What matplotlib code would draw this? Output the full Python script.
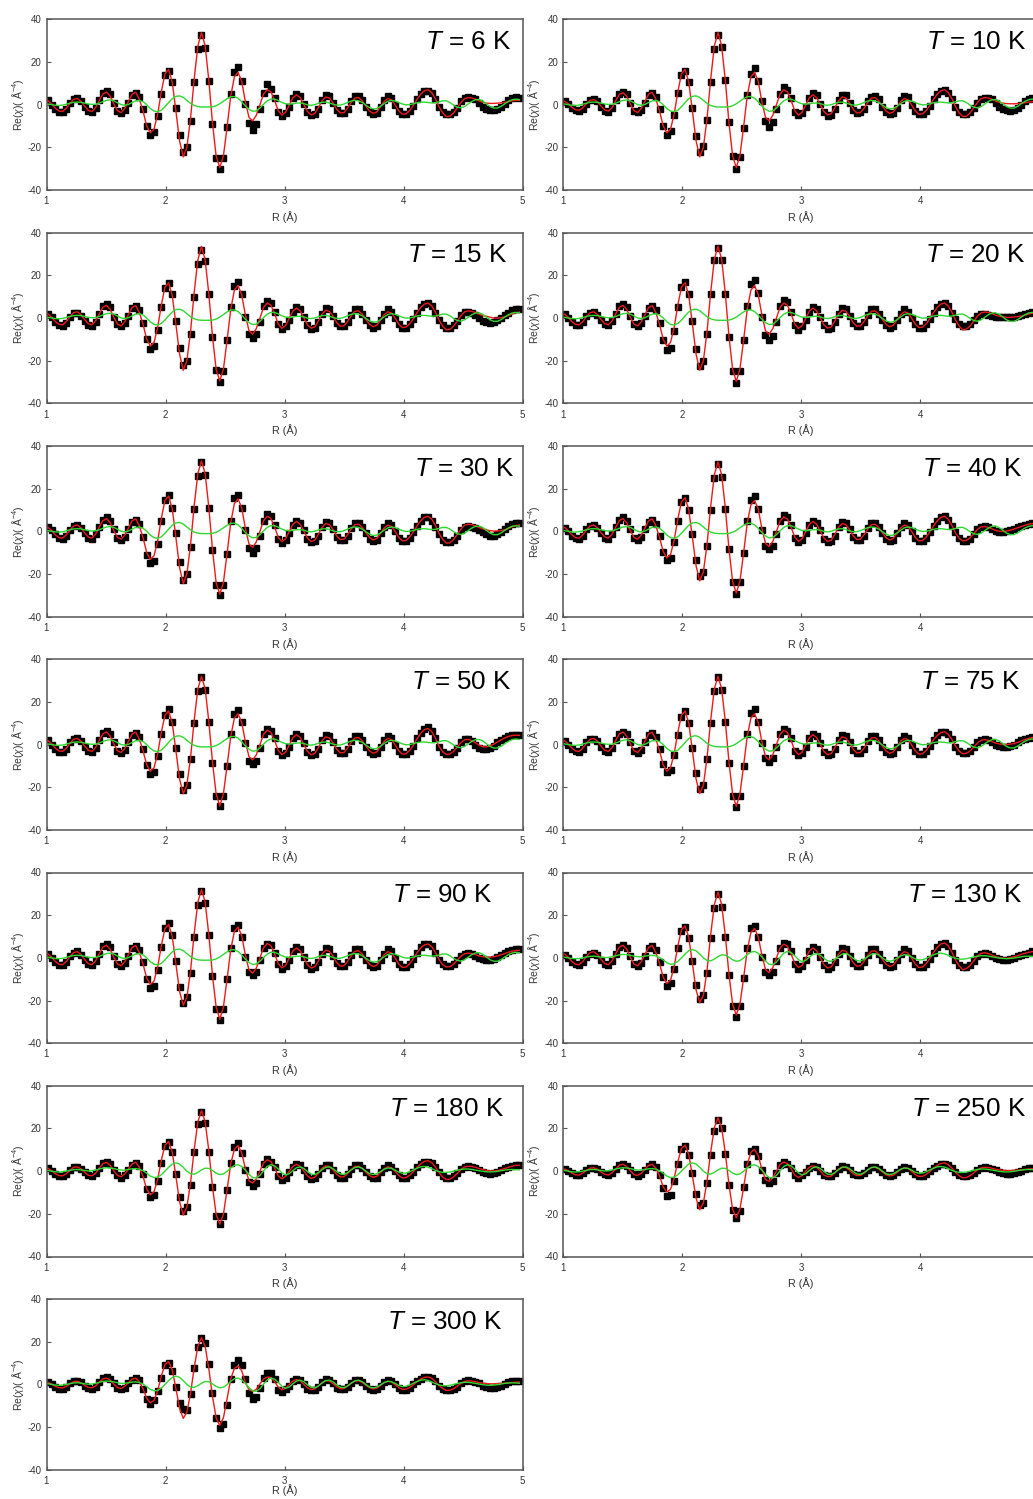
import numpy as np
import matplotlib.pyplot as plt

plt.rcParams['font.family'] = ['Liberation Sans', 'DejaVu Sans']
plt.rcParams['mathtext.fontset'] = 'custom'
plt.rcParams['mathtext.rm'] = 'Liberation Sans'
plt.rcParams['mathtext.it'] = 'Liberation Sans:italic'
plt.rcParams['axes.unicode_minus'] = False

# R grid of the transform (dR = 0.0307 A)
r = np.arange(33, 163) * 0.0307

temps = [6, 10, 15, 20, 30, 40, 50, 75, 90, 130, 180, 250, 300]

fit_6K = [
    1.8, 0.3, -1.7, -3.0, -3.2, -1.7, 0.6, 2.5, 2.9, 1.6,
    -0.7, -2.7, -3.2, -1.4, 1.9, 5.0, 5.9, 4.0, 0.3, -2.9,
    -3.7, -1.8, 1.6, 4.9, 5.8, 2.5, -3.0, -10.0, -13.2, -11.5,
    -4.5, 6.0, 14.5, 16.5, 10.5, -3.0, -17.0, -24.5, -20.0, -6.5,
    12.0, 27.5, 33.8, 27.5, 11.5, -8.5, -24.0, -29.5, -24.0, -10.5,
    4.0, 13.0, 15.2, 11.0, 1.5, -6.0, -7.6, -5.0, 0.0, 5.0,
    7.0, 6.0, 2.0, -2.8, -4.9, -3.6, -0.2, 3.2, 4.6, 3.3,
    0.1, -3.2, -4.8, -4.2, -1.4, 1.8, 3.6, 3.1, 0.8, -2.2,
    -3.9, -3.7, -1.6, 1.1, 3.1, 3.3, 1.8, -0.7, -3.0, -4.1,
    -3.4, -1.0, 1.5, 2.9, 2.3, -0.1, -2.9, -4.5, -4.3, -2.7,
    -0.3, 2.5, 4.9, 6.5, 7.0, 5.7, 2.8, -0.9, -3.8, -5.6,
    -5.4, -3.9, -1.5, 1.0, 2.8, 3.3, 3.1, 2.5, 1.7, 1.1,
    0.7, 0.6, 0.6, 0.7, 0.9, 1.1, 1.4, 1.8, 2.0, 2.1]
data_6K = [
    2, 0, -2, -3.5, -3.5, -2, 1, 2.5, 3, 1.5,
    -1, -3, -3.5, -1.5, 2, 5.5, 6.5, 5, 1, -3,
    -4, -2.5, 1, 4.5, 5.5, 3.5, -2, -10, -14, -13,
    -5.5, 5, 14, 16, 10.5, -1.5, -14, -22, -20, -7.5,
    10.5, 26, 32.5, 26.5, 11, -9, -25, -30, -25, -10.5,
    5, 15.5, 17.5, 11, 0.5, -8.5, -12, -9, -2, 5.5,
    9.5, 7.5, 3, -3.5, -5.5, -4, -1, 3, 5, 4,
    0.5, -3.5, -5, -4.5, -2, 2, 4.5, 4, 1, -2.5,
    -4, -4, -2, 1.5, 4, 4, 2, -1, -3.5, -4.5,
    -4, -1, 2, 4, 3, 0, -3, -4.5, -4.5, -3,
    -0.5, 2.5, 5, 6.5, 6.5, 5.5, 2.5, -1, -3.5, -4.5,
    -4.5, -3.5, -1.5, 1.5, 3, 3.5, 3, 2.5, 1, -1,
    -2, -2.5, -2.5, -2, -1, 0.5, 2, 3, 3.5, 3]

fit_10K = [
    1.5, 0.5, -1.2, -2.4, -2.6, -1.5, 0.5, 2.0, 2.3, 1.3,
    -0.7, -2.5, -3.0, -1.4, 1.8, 4.8, 5.6, 4.0, 0.3, -2.8,
    -3.7, -1.8, 1.6, 4.9, 5.8, 2.5, -3.0, -10.0, -13.2, -11.5,
    -4.5, 6.0, 14.5, 16.5, 10.5, -3.0, -17.0, -24.5, -20.0, -6.5,
    12.0, 27.5, 33.8, 27.5, 11.5, -8.5, -24.0, -29.5, -24.0, -10.5,
    4.0, 13.0, 15.2, 11.0, 1.5, -6.0, -7.6, -5.0, 0.0, 5.0,
    7.0, 6.0, 2.0, -2.8, -4.9, -3.6, -0.2, 3.2, 4.6, 3.3,
    0.1, -3.2, -4.8, -4.2, -1.4, 1.8, 3.6, 3.1, 0.8, -2.2,
    -3.9, -3.7, -1.6, 1.1, 3.1, 3.3, 1.8, -0.7, -3.0, -4.1,
    -3.4, -1.0, 1.5, 2.9, 2.3, -0.1, -2.9, -4.5, -4.3, -2.7,
    -0.3, 2.5, 4.9, 6.5, 7.0, 5.7, 2.8, -0.9, -3.8, -5.6,
    -5.4, -3.9, -1.5, 1.0, 2.8, 3.3, 3.1, 2.5, 1.7, 1.1,
    0.7, 0.5, 0.4, 0.4, 0.5, 0.7, 0.9, 1.2, 1.4, 1.5]
data_10K = [
    1.5, 0.5, -1.5, -2.5, -3, -2, 0.5, 2, 2.5, 1.5,
    -1, -3, -3.5, -1.5, 2, 5, 6, 5, 1, -3,
    -3.5, -2.5, 1, 4.5, 5.5, 3.5, -2, -10, -14, -12.5,
    -5, 5.5, 14, 16, 10.5, -1.5, -14.5, -22, -19.5, -7,
    10.5, 26, 32.5, 27, 11.5, -8, -24, -30, -24.5, -11,
    4.5, 14.5, 17, 11, 1.5, -7.5, -10.5, -8, -2, 5,
    8.5, 7, 3, -3.5, -5, -4, -1, 3, 5.5, 4.5,
    0.5, -3.5, -5.5, -5, -2, 2, 4.5, 4.5, 1, -2.5,
    -4, -3.5, -2, 1.5, 3.5, 4, 2.5, -1, -3.5, -4.5,
    -4, -1.5, 2, 4, 3.5, 0, -3, -4.5, -4.5, -3,
    -0.5, 2.5, 5, 6.5, 7, 5.5, 2.5, -1, -3.5, -4.5,
    -4.5, -3.5, -1.5, 1, 2.5, 3, 3, 2.5, 1, -1,
    -2, -2.5, -3, -2.5, -1.5, 0, 1.5, 2.5, 3, 3]

fit_15K = [
    1.8, 0.3, -1.7, -3.0, -3.2, -1.7, 0.6, 2.5, 2.9, 1.6,
    -0.7, -2.7, -3.2, -1.4, 1.9, 5.0, 5.9, 4.0, 0.3, -2.9,
    -3.7, -1.8, 1.6, 4.9, 5.8, 2.5, -3.0, -10.0, -13.2, -11.5,
    -4.5, 6.0, 14.5, 16.5, 10.5, -3.0, -17.0, -24.5, -20.0, -6.5,
    12.0, 27.2, 33.5, 27.2, 11.4, -8.5, -24.0, -29.5, -24.0, -10.5,
    4.0, 13.0, 15.2, 11.0, 1.5, -6.0, -7.6, -5.0, 0.0, 5.0,
    7.0, 6.0, 2.0, -2.8, -4.9, -3.6, -0.2, 3.2, 4.6, 3.3,
    0.1, -3.2, -4.8, -4.2, -1.4, 1.8, 3.6, 3.1, 0.8, -2.2,
    -3.9, -3.7, -1.6, 1.1, 3.1, 3.3, 1.8, -0.7, -3.0, -4.1,
    -3.4, -1.0, 1.5, 2.9, 2.3, -0.1, -2.9, -4.5, -4.3, -2.7,
    -0.3, 2.5, 4.9, 6.5, 7.0, 5.7, 2.8, -0.9, -3.8, -5.6,
    -5.4, -3.9, -1.5, 1.0, 2.8, 3.3, 3.1, 2.5, 1.7, 1.1,
    0.8, 0.3, 0.0, -0.1, 0.1, 0.5, 1.1, 1.8, 2.4, 2.8]
data_15K = [
    2, 0.5, -2, -3.5, -4, -2.5, 0.5, 2.5, 2.5, 1,
    -1.5, -3.5, -4, -2, 2, 5.5, 6.5, 5, 0.5, -3,
    -4, -2.5, 1, 4.5, 5.5, 3.5, -2.5, -10, -14.5, -13,
    -5.5, 5, 14, 16.5, 11, -1.5, -14, -22, -20, -7.5,
    10, 25.5, 32, 26.5, 11, -9, -24.5, -30, -25, -10.5,
    5, 15, 17, 11, 0.5, -7.5, -9.5, -7.5, -2, 5.5,
    8, 7, 3, -3, -5, -4, -1, 3, 5, 4,
    0.5, -3.5, -5, -4.5, -2, 2, 4.5, 4, 1, -2.5,
    -4, -4, -2, 1.5, 4, 4, 2, -1, -3.5, -4.5,
    -4, -1, 2, 4, 3, 0, -3, -4.5, -4.5, -3,
    -0.5, 2.5, 5, 6.5, 7, 5.5, 2.5, -1, -3.5, -4.5,
    -4.5, -3.5, -1.5, 1.5, 3, 3, 2.5, 1.5, 0, -1.5,
    -2, -2.5, -2, -1, 0, 1.5, 2.5, 3.5, 4, 4]

fit_20K = [
    1.8, 0.3, -1.7, -3.0, -3.2, -1.7, 0.6, 2.5, 2.9, 1.6,
    -0.7, -2.7, -3.2, -1.4, 1.9, 5.0, 5.9, 4.0, 0.3, -2.9,
    -3.7, -1.8, 1.6, 4.9, 5.8, 2.5, -3.0, -10.0, -13.2, -11.5,
    -4.5, 6.0, 14.5, 16.5, 10.5, -3.0, -17.0, -24.5, -20.0, -6.5,
    12.0, 27.5, 33.6, 27.5, 11.5, -8.5, -24.0, -29.8, -24.0, -10.5,
    4.0, 13.0, 15.2, 11.0, 1.5, -6.0, -7.6, -5.0, 0.0, 5.0,
    7.0, 6.0, 2.0, -2.8, -4.9, -3.6, -0.2, 3.2, 4.6, 3.3,
    0.1, -3.2, -4.8, -4.2, -1.4, 1.8, 3.6, 3.1, 0.8, -2.2,
    -3.9, -3.7, -1.6, 1.1, 3.1, 3.3, 1.8, -0.7, -3.0, -4.1,
    -3.4, -1.0, 1.5, 2.9, 2.3, -0.1, -2.9, -4.5, -4.3, -2.7,
    -0.3, 2.5, 4.9, 6.5, 7.0, 5.7, 2.8, -0.9, -3.8, -5.6,
    -5.2, -3.8, -1.5, 0.8, 2.3, 2.8, 2.6, 2.0, 1.3, 0.8,
    0.5, 0.3, 0.3, 0.4, 0.6, 0.9, 1.3, 1.8, 2.2, 2.4]
data_20K = [
    2, 0, -2, -3.5, -3.5, -2, 1, 2.5, 3, 1.5,
    -1, -3, -3.5, -1.5, 2, 5.5, 6.5, 5, 1, -3,
    -4, -2.5, 1, 4.5, 5.5, 3.5, -2.5, -10.5, -15, -14,
    -6, 5, 14.5, 17, 11, -1.5, -14.5, -22.5, -20, -7.5,
    11, 27, 33, 27, 11, -9, -25, -30.5, -25, -10.5,
    5.5, 16, 18, 11.5, 0.5, -8, -10.5, -8.5, -2, 5.5,
    8.5, 7.5, 3, -3.5, -5.5, -4, -1, 3, 5, 4,
    0.5, -3.5, -5, -4.5, -2, 2, 4.5, 4, 1, -2.5,
    -4, -4, -2, 1.5, 4, 4, 2, -1, -3.5, -4.5,
    -4, -1, 2, 4, 3, 0, -3, -4.5, -4.5, -3,
    -0.5, 2.5, 5, 6.5, 7, 5.5, 2.5, -0.5, -3, -4,
    -4, -3, -1, 1, 2, 2, 1.5, 1, 0.5, 0.5,
    0.5, 0.5, 0.5, 0.5, 1, 1.5, 2, 2.5, 3, 3]

fit_30K = [
    1.8, 0.3, -1.7, -3.0, -3.2, -1.7, 0.6, 2.5, 2.9, 1.6,
    -0.7, -2.7, -3.2, -1.4, 1.9, 5.0, 5.9, 4.0, 0.3, -2.9,
    -3.7, -1.8, 1.6, 4.9, 5.8, 2.5, -3.0, -10.0, -13.2, -11.5,
    -4.5, 6.0, 14.5, 16.5, 10.5, -3.0, -17.0, -24.5, -20.0, -6.5,
    12.0, 27.0, 33.0, 27.0, 11.3, -8.5, -24.0, -29.5, -24.0, -10.5,
    4.0, 13.0, 15.2, 11.0, 1.5, -6.0, -7.6, -5.0, 0.0, 5.0,
    7.0, 6.0, 2.0, -2.8, -4.9, -3.6, -0.2, 3.2, 4.6, 3.3,
    0.1, -3.2, -4.8, -4.2, -1.4, 1.8, 3.6, 3.1, 0.8, -2.2,
    -3.9, -3.7, -1.6, 1.1, 3.1, 3.3, 1.8, -0.7, -3.0, -4.1,
    -3.4, -1.0, 1.5, 2.9, 2.3, -0.1, -2.9, -4.5, -4.3, -2.7,
    -0.3, 2.5, 4.9, 6.5, 7.0, 5.7, 2.8, -0.9, -3.8, -5.6,
    -5.4, -3.9, -1.5, 1.0, 2.8, 3.3, 3.1, 2.5, 1.7, 1.1,
    0.6, 0.3, 0.1, 0.1, 0.3, 0.7, 1.3, 2.0, 2.6, 3.0]
data_30K = [
    2, 0.5, -1.5, -3, -3.5, -2, 0.5, 2.5, 3, 1.5,
    -1, -3, -3.5, -1.5, 2, 5.5, 6.5, 5, 1, -3,
    -4, -2.5, 1, 4.5, 5.5, 3.5, -2.5, -11, -15, -14,
    -6, 5, 14.5, 17, 11, -1, -14.5, -23, -20, -7.5,
    10.5, 26, 32.5, 26.5, 11, -9, -25, -30, -25, -10.5,
    5, 15.5, 17, 11, 0.5, -8, -10, -8, -2, 5,
    8, 7, 3, -3.5, -5.5, -4, -1, 3, 5, 4,
    0.5, -3.5, -5, -4.5, -2, 2, 4.5, 4, 1, -2.5,
    -4, -4, -2, 1.5, 4, 4, 2, -1, -3.5, -4.5,
    -4, -1, 2, 4, 3, 0, -3, -4.5, -4.5, -3,
    -0.5, 2.5, 5, 6.5, 6.5, 5, 2, -1.5, -4, -5,
    -5, -4, -2, 0.5, 2, 2.5, 2, 1.5, 0.5, -0.5,
    -1.5, -2, -2, -1.5, -0.5, 1, 2.5, 3.5, 4, 4]

fit_40K = [
    1.8, 0.3, -1.7, -3.0, -3.2, -1.7, 0.6, 2.5, 2.9, 1.6,
    -0.7, -2.7, -3.2, -1.4, 1.9, 5.0, 5.9, 4.0, 0.3, -2.9,
    -3.7, -1.8, 1.6, 4.9, 5.8, 2.5, -2.9, -9.5, -12.5, -10.9,
    -4.3, 5.7, 13.8, 15.7, 10.0, -2.9, -16.2, -23.3, -19.0, -6.2,
    11.6, 26.5, 32.5, 26.5, 11.0, -8.3, -23.5, -29.0, -23.5, -10.2,
    3.8, 12.4, 14.4, 10.5, 1.4, -5.7, -7.2, -4.8, 0.0, 4.8,
    6.7, 5.7, 1.9, -2.7, -4.7, -3.6, -0.2, 3.2, 4.6, 3.3,
    0.1, -3.2, -4.8, -4.2, -1.4, 1.8, 3.6, 3.1, 0.8, -2.2,
    -3.9, -3.7, -1.6, 1.1, 3.1, 3.3, 1.8, -0.7, -3.0, -4.1,
    -3.4, -1.0, 1.5, 2.9, 2.3, -0.1, -2.9, -4.5, -4.3, -2.7,
    -0.3, 2.5, 4.9, 6.5, 7.0, 5.7, 2.8, -0.7, -3.3, -4.5,
    -4.3, -3.1, -1.1, 0.9, 2.0, 2.2, 1.8, 1.1, 0.4, 0.0,
    -0.1, 0.1, 0.5, 1.0, 1.6, 2.2, 2.8, 3.3, 3.6, 3.7]
data_40K = [
    1.5, 0, -2, -3, -3.5, -2, 1, 2.5, 3, 1.5,
    -1, -3, -3.5, -1.5, 2, 5.5, 6.5, 5, 1, -3,
    -4, -2.5, 1, 4.5, 5.5, 3.5, -2, -9.5, -13.5, -12.5,
    -5, 5, 13.5, 15.5, 10, -1.5, -13.5, -21, -19, -7,
    10, 25, 31.5, 25.5, 10.5, -8.5, -24, -29.5, -24, -10,
    5, 14.5, 16.5, 10.5, 0.5, -7, -8.5, -7, -1.5, 5,
    7.5, 6.5, 3, -3, -5, -4, -1, 3, 5, 4,
    0.5, -3.5, -5, -4.5, -2, 2, 4.5, 4, 1, -2.5,
    -4, -4, -2, 1.5, 4, 4, 2, -1, -3.5, -4.5,
    -4, -1, 2, 4, 3, 0, -3, -4.5, -4.5, -3,
    -0.5, 2.5, 5, 6.5, 7, 5.5, 2.5, -0.5, -3, -4.5,
    -4.5, -3.5, -1.5, 1, 2, 2.5, 2, 1, 0, -0.5,
    -0.5, 0, 0.5, 1, 2, 2.5, 3, 3.5, 4, 4]

fit_50K = [
    1.8, 0.3, -1.7, -3.0, -3.2, -1.7, 0.6, 2.5, 2.9, 1.6,
    -0.7, -2.7, -3.2, -1.4, 1.9, 5.0, 5.9, 4.0, 0.3, -2.9,
    -3.7, -1.8, 1.6, 4.9, 5.8, 2.5, -2.9, -9.5, -12.5, -10.9,
    -4.3, 5.7, 13.8, 15.7, 10.0, -2.9, -16.2, -23.0, -19.0, -6.2,
    11.4, 26.1, 32.0, 26.1, 10.9, -8.1, -23.0, -28.8, -23.0, -10.0,
    3.8, 12.4, 14.4, 10.5, 1.4, -5.7, -7.2, -4.8, 0.0, 4.8,
    6.7, 5.7, 1.9, -2.7, -4.7, -3.6, -0.2, 3.2, 4.6, 3.3,
    0.1, -3.2, -4.8, -4.2, -1.4, 1.8, 3.6, 3.1, 0.8, -2.2,
    -3.9, -3.7, -1.6, 1.1, 3.1, 3.3, 1.8, -0.7, -3.0, -4.1,
    -3.4, -1.0, 1.5, 2.9, 2.3, -0.1, -2.9, -4.5, -4.3, -2.7,
    -0.3, 2.7, 5.3, 7.0, 7.5, 6.1, 3.0, -0.7, -3.4, -4.6,
    -4.4, -3.2, -1.2, 0.9, 2.2, 2.4, 1.8, 0.8, -0.3, -1.0,
    -1.1, -0.6, 0.2, 1.2, 2.2, 3.1, 3.8, 4.2, 4.4, 4.3]
data_50K = [
    2, 0, -2, -3.5, -3.5, -2, 1, 2.5, 3, 1.5,
    -1, -3, -3.5, -1.5, 2, 5.5, 6.5, 5, 1, -3,
    -4, -2.5, 1, 4.5, 5.5, 3.5, -2, -9.5, -14, -13,
    -5.5, 5, 14, 16.5, 10.5, -1.5, -14, -21.5, -19, -7,
    10, 25, 31.5, 25.5, 10.5, -8.5, -24, -29, -24, -10,
    5, 14.5, 16, 10.5, 0.5, -7.5, -9, -7.5, -1.5, 5,
    7.5, 6.5, 3, -3, -5, -4, -1, 3, 5, 4,
    0.5, -3.5, -5, -4.5, -2, 2, 4.5, 4, 1, -2.5,
    -4, -4, -2, 1.5, 4, 4, 2, -1, -3.5, -4.5,
    -4, -1, 2, 4, 3, 0, -3, -4.5, -4.5, -3,
    -0.5, 3, 5.5, 7.5, 8, 6.5, 3, -1, -3.5, -4.5,
    -4.5, -3.5, -1.5, 1, 2.5, 2.5, 1.5, 0, -1.5, -2,
    -2, -1.5, -0.5, 1, 2, 3, 4, 4.5, 4.5, 4.5]

fit_75K = [
    1.8, 0.3, -1.7, -3.0, -3.2, -1.7, 0.6, 2.5, 2.9, 1.6,
    -0.7, -2.7, -3.2, -1.4, 1.9, 5.0, 5.9, 4.0, 0.3, -2.9,
    -3.7, -1.8, 1.6, 4.9, 5.8, 2.5, -2.9, -9.5, -12.5, -10.9,
    -4.3, 5.7, 13.8, 15.7, 10.0, -2.9, -16.2, -23.0, -19.0, -6.2,
    11.4, 26.1, 32.0, 26.1, 10.9, -8.1, -23.3, -29.0, -23.3, -10.0,
    3.8, 12.4, 14.4, 10.5, 1.4, -5.7, -7.2, -4.8, 0.0, 4.8,
    6.7, 5.7, 1.9, -2.7, -4.7, -3.6, -0.2, 3.2, 4.6, 3.3,
    0.1, -3.2, -4.8, -4.2, -1.4, 1.8, 3.6, 3.1, 0.8, -2.2,
    -3.9, -3.7, -1.6, 1.1, 3.1, 3.3, 1.8, -0.7, -3.0, -4.1,
    -3.4, -1.0, 1.5, 2.9, 2.3, -0.1, -2.9, -4.5, -4.3, -2.7,
    -0.3, 2.2, 4.2, 5.6, 6.0, 4.9, 2.4, -0.7, -3.1, -4.3,
    -4.1, -3.0, -1.2, 0.7, 2.0, 2.3, 2.0, 1.4, 0.7, 0.3,
    0.0, 0.0, 0.2, 0.5, 1.0, 1.6, 2.3, 2.9, 3.3, 3.4]
data_75K = [
    1.5, 0, -2, -3, -3.5, -2, 1, 2.5, 2.5, 1.5,
    -1, -3, -3.5, -1.5, 2, 5, 6, 5, 1, -3,
    -4, -2.5, 1, 4.5, 5.5, 3.5, -2, -9, -13, -12,
    -5, 4.5, 13, 15.5, 10, -1.5, -13.5, -21, -19, -7,
    10, 25, 31.5, 25.5, 10.5, -8.5, -24, -29.5, -24, -10,
    5, 15, 16.5, 10.5, 0.5, -6.5, -8, -6.5, -1, 5,
    7.5, 6.5, 3, -3, -5, -4, -1, 3, 5, 4,
    0.5, -3.5, -5, -4.5, -2, 2, 4.5, 4, 1, -2.5,
    -4, -4, -2, 1.5, 4, 4, 2, -1, -3.5, -4.5,
    -4, -1, 2, 4, 3, 0, -3, -4.5, -4.5, -3,
    -0.5, 2, 4.5, 6, 6, 5, 2.5, -1, -3, -4,
    -4, -3, -1, 1, 2, 2.5, 2, 1, 0, -0.5,
    -1, -1, -0.5, 0, 1, 2, 2.5, 3, 3.5, 3.5]

fit_90K = [
    1.8, 0.3, -1.7, -3.0, -3.2, -1.7, 0.6, 2.5, 2.9, 1.6,
    -0.7, -2.7, -3.2, -1.4, 1.9, 5.0, 5.9, 4.0, 0.3, -2.9,
    -3.7, -1.8, 1.6, 4.9, 5.8, 2.5, -2.9, -9.5, -12.5, -10.9,
    -4.3, 5.7, 13.8, 15.7, 10.0, -2.9, -15.8, -22.2, -18.5, -6.2,
    11.4, 26.1, 32.0, 26.1, 10.9, -8.1, -23.0, -28.8, -23.0, -10.0,
    3.8, 12.4, 14.4, 10.5, 1.4, -5.7, -7.2, -4.8, 0.0, 4.8,
    6.7, 5.7, 1.9, -2.7, -4.7, -3.6, -0.2, 3.2, 4.6, 3.3,
    0.1, -3.2, -4.8, -4.2, -1.4, 1.8, 3.6, 3.1, 0.8, -2.2,
    -3.9, -3.7, -1.6, 1.1, 3.1, 3.3, 1.8, -0.7, -3.0, -4.1,
    -3.4, -1.0, 1.5, 2.9, 2.3, -0.1, -2.9, -4.5, -4.3, -2.7,
    -0.3, 2.4, 4.6, 6.1, 6.5, 5.3, 2.6, -0.7, -3.2, -4.3,
    -4.1, -3.0, -1.1, 0.8, 1.9, 2.2, 2.0, 1.5, 0.9, 0.5,
    0.3, 0.3, 0.5, 0.9, 1.4, 2.0, 2.6, 3.1, 3.4, 3.5]
data_90K = [
    2, 0, -2, -3.5, -3.5, -2, 1, 2.5, 3, 1.5,
    -1, -3, -3.5, -1.5, 2, 5.5, 6.5, 5, 1, -3,
    -4, -2.5, 1, 4.5, 5.5, 3.5, -2, -10, -14, -13,
    -5.5, 5, 14, 16.5, 10.5, -1.5, -13.5, -21, -18.5, -7,
    10, 25, 31.5, 25.5, 10.5, -8.5, -24, -29, -24, -10,
    4.5, 14, 15.5, 10, 0.5, -6.5, -8, -6.5, -1, 4.5,
    6.5, 6, 2.5, -3, -5, -4, -1, 3, 5, 4,
    0.5, -3.5, -5, -4.5, -2, 2, 4.5, 4, 1, -2.5,
    -4, -4, -2, 1.5, 4, 4, 2, -1, -3.5, -4.5,
    -4, -1, 2, 4, 3, 0, -3, -4.5, -4.5, -3,
    -0.5, 2.5, 5, 6.5, 6.5, 5.5, 2.5, -1, -3, -4,
    -4, -3, -1, 1, 2, 2.5, 2, 1, 0, -0.5,
    -1, -1, -0.5, 0.5, 1.5, 2.5, 3, 3.5, 4, 4]

fit_130K = [
    1.8, 0.3, -1.7, -3.0, -3.2, -1.7, 0.6, 2.5, 2.9, 1.6,
    -0.7, -2.7, -3.2, -1.4, 1.9, 5.0, 5.9, 4.0, 0.3, -2.9,
    -3.7, -1.8, 1.6, 4.9, 5.8, 2.5, -2.7, -9.1, -12.0, -10.5,
    -4.1, 5.5, 13.2, 15.0, 9.6, -2.7, -15.0, -21.0, -17.5, -5.9,
    10.9, 25.0, 30.8, 25.0, 10.5, -7.7, -21.8, -26.8, -21.8, -9.6,
    3.6, 11.8, 13.8, 10.0, 1.4, -5.5, -6.9, -4.6, 0.0, 4.6,
    6.4, 5.5, 1.8, -2.5, -4.5, -3.6, -0.2, 3.2, 4.6, 3.3,
    0.1, -3.2, -4.8, -4.2, -1.4, 1.8, 3.6, 3.1, 0.8, -2.2,
    -3.9, -3.7, -1.6, 1.1, 3.1, 3.3, 1.8, -0.7, -3.0, -4.1,
    -3.4, -1.0, 1.5, 2.9, 2.3, -0.1, -2.9, -4.5, -4.3, -2.7,
    -0.3, 2.5, 4.9, 6.5, 7.0, 5.7, 2.8, -0.9, -3.8, -5.6,
    -5.0, -3.6, -1.4, 0.8, 2.1, 2.4, 2.0, 1.3, 0.6, 0.1,
    -0.2, -0.2, 0.1, 0.5, 1.0, 1.6, 2.1, 2.6, 2.9, 3.0]
data_130K = [
    1.5, 0, -2, -3, -3.5, -2, 0.5, 2, 2.5, 1.5,
    -1, -3, -3.5, -1.5, 2, 5, 6, 4.5, 1, -3,
    -4, -2.5, 1, 4.5, 5.5, 3.5, -2, -9, -13, -12,
    -5, 4.5, 12.5, 14.5, 9.5, -1.5, -12.5, -19.5, -17.5, -7,
    9.5, 23.5, 30, 24, 10, -8, -22.5, -27.5, -22.5, -9.5,
    4.5, 14, 15, 10, 0.5, -6.5, -8, -6.5, -1.5, 4.5,
    7, 6.5, 3, -3, -5, -4, -1, 3, 5, 4,
    0.5, -3.5, -5, -4.5, -2, 2, 4.5, 4, 1, -2.5,
    -4, -4, -2, 1.5, 4, 4, 2, -1, -3.5, -4.5,
    -4, -1, 2, 4, 3, 0, -3, -4.5, -4.5, -3,
    -0.5, 2.5, 5, 6.5, 7, 5.5, 2.5, -1, -3.5, -4.5,
    -4.5, -3.5, -1.5, 1, 2, 2.5, 2, 1, 0, -0.5,
    -1, -1, -0.5, 0, 1, 1.5, 2, 2.5, 3, 3]

fit_180K = [
    1.3, 0.2, -1.2, -2.1, -2.2, -1.2, 0.4, 1.8, 2.0, 1.1,
    -0.5, -1.9, -2.2, -1.0, 1.3, 3.5, 4.1, 2.8, 0.2, -2.0,
    -2.6, -1.3, 1.1, 3.4, 4.1, 1.8, -2.5, -8.4, -11.1, -9.7,
    -3.8, 5.0, 12.2, 13.9, 8.8, -2.5, -14.3, -20.6, -16.8, -5.5,
    10.1, 23.1, 28.4, 23.1, 9.7, -7.1, -20.2, -24.8, -20.2, -8.8,
    3.4, 10.2, 12.0, 8.6, 1.3, -4.5, -5.6, -3.7, 0.0, 3.8,
    5.3, 4.5, 1.5, -2.2, -3.6, -2.5, -0.1, 2.2, 3.2, 2.3,
    0.1, -2.2, -3.4, -2.9, -1.0, 1.3, 2.5, 2.2, 0.6, -1.5,
    -2.7, -2.6, -1.1, 0.8, 2.2, 2.3, 1.3, -0.5, -2.1, -2.9,
    -2.4, -0.7, 1.1, 2.0, 1.6, -0.1, -2.0, -3.2, -3.0, -1.9,
    -0.2, 1.8, 3.4, 4.6, 4.9, 4.0, 2.0, -0.6, -2.7, -3.9,
    -3.8, -2.7, -1.1, 0.7, 2.0, 2.3, 2.2, 1.8, 1.2, 0.8,
    0.3, 0.1, 0.1, 0.3, 0.7, 1.2, 1.8, 2.3, 2.7, 2.8]
data_180K = [
    1.5, 0, -1.5, -2.5, -2.5, -1.5, 0.5, 2, 2, 1,
    -0.5, -2, -2.5, -1, 1.5, 4, 4.5, 3.5, 0.5, -2,
    -3, -2, 0.5, 3, 4, 2.5, -1.5, -8.5, -12, -11,
    -4.5, 4, 12, 13.5, 9, -1.5, -12, -18.5, -17, -6.5,
    9, 22, 27.5, 22.5, 9, -7.5, -21, -25, -21, -9,
    4, 11.5, 13, 8.5, 0.5, -5, -7, -5.5, -1.5, 3.5,
    5.5, 4.5, 2, -2.5, -4, -3, -0.5, 2, 3.5, 3,
    0.5, -2.5, -3.5, -3, -1.5, 1.5, 3, 3, 0.5, -2,
    -3, -3, -1.5, 1, 3, 3, 1.5, -0.5, -2.5, -3,
    -3, -0.5, 1.5, 3, 2, 0, -2, -3, -3, -2,
    -0.5, 2, 3.5, 4.5, 4.5, 4, 2, -0.5, -2.5, -3,
    -3, -2.5, -1, 1, 2, 2.5, 2, 1.5, 0.5, -0.5,
    -1, -1.5, -1, -0.5, 0.5, 1.5, 2, 2.5, 3, 3]

fit_250K = [
    1.0, 0.2, -0.9, -1.7, -1.8, -0.9, 0.3, 1.4, 1.6, 0.9,
    -0.4, -1.5, -1.8, -0.8, 1.0, 2.8, 3.2, 2.2, 0.2, -1.6,
    -2.0, -1.0, 0.9, 2.7, 3.2, 1.4, -2.2, -7.4, -9.8, -8.5,
    -3.3, 4.4, 10.7, 12.2, 7.8, -2.2, -12.6, -18.1, -14.8, -4.8,
    8.9, 20.4, 25.0, 20.4, 8.5, -6.3, -17.8, -21.8, -17.8, -7.8,
    3.0, 8.8, 10.2, 7.3, 1.0, -3.9, -4.8, -3.1, 0.0, 3.1,
    4.3, 3.6, 1.2, -1.8, -3.0, -2.0, -0.1, 1.8, 2.5, 1.8,
    0.1, -1.8, -2.6, -2.3, -0.8, 1.0, 2.0, 1.7, 0.4, -1.2,
    -2.1, -2.0, -0.9, 0.6, 1.7, 1.8, 1.0, -0.4, -1.7, -2.3,
    -1.9, -0.6, 0.8, 1.6, 1.3, -0.1, -1.6, -2.5, -2.4, -1.5,
    -0.2, 1.4, 2.7, 3.6, 3.9, 3.1, 1.5, -0.5, -2.1, -3.1,
    -3.0, -2.1, -0.8, 0.6, 1.5, 1.8, 1.7, 1.4, 0.9, 0.6,
    0.4, 0.3, 0.3, 0.4, 0.5, 0.6, 0.8, 1.0, 1.1, 1.2]
data_250K = [
    1, 0, -1, -2, -2, -1, 0.5, 1.5, 1.5, 1,
    -0.5, -1.5, -2, -1, 1, 3, 3.5, 2.5, 0.5, -1.5,
    -2.5, -1.5, 0.5, 2.5, 3.5, 2, -2, -8, -11.5, -11,
    -4.5, 3.5, 10.5, 12, 7.5, -1, -10.5, -16, -15, -5.5,
    7.5, 19, 24, 20, 8, -6.5, -18, -22, -18.5, -7.5,
    3.5, 9.5, 10.5, 7, 0.5, -4, -5.5, -4.5, -1, 3,
    4.5, 3.5, 1.5, -2, -3, -2, -0.5, 1.5, 2.5, 2,
    0, -2, -2.5, -2.5, -1, 1, 2.5, 2, 0.5, -1.5,
    -2, -2, -1, 0.5, 2, 2, 1, -0.5, -2, -2.5,
    -2, -0.5, 1, 2, 1.5, 0, -1.5, -2.5, -2.5, -1.5,
    0, 1.5, 2.5, 3.5, 3.5, 3, 1.5, -0.5, -2, -2.5,
    -2.5, -2, -1, 0.5, 1.5, 2, 1.5, 1, 0.5, -0.5,
    -1, -1.5, -1.5, -1, -0.5, 0, 1, 1.5, 1.5, 1.5]

fit_300K = [
    0.9, 0.2, -0.9, -1.5, -1.6, -0.9, 0.3, 1.3, 1.5, 0.8,
    -0.4, -1.4, -1.6, -0.7, 1.0, 2.5, 3.0, 2.0, 0.2, -1.5,
    -1.9, -0.9, 0.8, 2.5, 2.9, 1.3, -2.0, -6.5, -8.6, -7.5,
    -2.9, 3.9, 9.4, 10.7, 6.8, -2.0, -11.1, -15.9, -13.0, -4.2,
    7.8, 17.9, 22.0, 17.9, 7.5, -5.5, -15.6, -19.2, -15.6, -6.8,
    2.6, 7.5, 8.7, 6.5, 1.0, -2.5, -3.2, -2.3, 0.3, 2.5,
    3.5, 3.2, 1.3, -1.2, -2.5, -1.8, -0.1, 1.6, 2.3, 1.7,
    0.1, -1.6, -2.4, -2.1, -0.7, 0.9, 1.8, 1.6, 0.4, -1.1,
    -2.0, -1.9, -0.8, 0.6, 1.6, 1.7, 0.9, -0.4, -1.5, -2.1,
    -1.7, -0.5, 0.8, 1.5, 1.2, -0.1, -1.5, -2.3, -2.2, -1.4,
    -0.2, 1.3, 2.5, 3.3, 3.5, 2.9, 1.4, -0.5, -1.9, -2.8,
    -2.7, -2.0, -0.8, 0.5, 1.4, 1.7, 1.6, 1.3, 0.9, 0.6,
    0.4, 0.3, 0.3, 0.4, 0.5, 0.6, 0.7, 0.9, 1.0, 1.1]
data_300K = [
    1, 0, -1, -2, -2, -1, 0.5, 1.5, 1.5, 1,
    -0.5, -1.5, -2, -1, 1, 3, 3.5, 2.5, 0.5, -1.5,
    -2, -1.5, 0.5, 2, 3, 2, -2, -7, -9, -7.5,
    -3, 3, 9, 10, 6.5, -1, -8.5, -11.5, -12, -4.5,
    7.5, 17.5, 22, 19.5, 9.5, -4, -15.5, -20.5, -18.5, -9.5,
    2.5, 9, 11.5, 9, 2.5, -4, -7, -6, -1.5, 3,
    5.5, 5.5, 2.5, -2.5, -3.5, -2, -0.5, 1.5, 2.5, 2,
    0, -2, -2.5, -2.5, -1, 1, 2.5, 2, 0.5, -1.5,
    -2, -2, -1, 0.5, 2, 2, 1, -0.5, -2, -2.5,
    -2, -0.5, 1, 2, 1.5, 0, -1.5, -2.5, -2.5, -1.5,
    0, 1.5, 2.5, 3.5, 3.5, 3, 1.5, -0.5, -2, -2.5,
    -2.5, -2, -1, 0.5, 1.5, 2, 1.5, 1, 0.5, -0.5,
    -1, -1.5, -1.5, -1, -0.5, 0, 1, 1.5, 1.5, 1.5]

# smaller path contribution (green curve), low and high temperature sets
comp_low = [
    0.3, 0.0, -0.3, -0.4, -0.2, 0.2, 0.7, 1.1, 1.2, 1.1,
    0.7, 0.3, 0.1, 0.2, 0.7, 1.4, 2.0, 2.2, 1.8, 0.9,
    0.0, -0.3, 0.1, 1.0, 1.8, 2.0, 1.4, 0.0, -1.8, -3.0,
    -3.3, -2.6, -1.0, 1.0, 2.8, 3.9, 4.1, 3.4, 2.0, 0.6,
    -0.4, -0.9, -1.1, -1.1, -1.1, -1.0, -0.5, 0.4, 1.6, 2.8,
    3.7, 3.8, 3.0, 1.4, -0.6, -2.2, -3.1, -2.9, -1.6, 0.2,
    1.8, 2.6, 2.6, 1.9, 1.0, 0.4, 0.2, 0.4, 0.7, 0.8,
    0.5, -0.1, -0.3, 0.0, 0.6, 1.1, 1.2, 0.8, 0.2, -0.2,
    -0.2, 0.3, 1.0, 1.7, 2.0, 1.8, 1.0, -0.2, -1.4, -2.0,
    -1.8, -0.8, 0.5, 1.6, 2.0, 1.7, 1.0, 0.3, -0.1, 0.0,
    0.4, 0.9, 1.2, 1.2, 1.0, 0.8, 0.9, 1.3, 1.8, 1.8,
    1.0, -0.2, -1.2, -1.5, -0.9, 0.3, 1.5, 2.3, 2.4, 1.7,
    0.4, -0.9, -1.6, -1.6, -0.8, 0.4, 1.5, 2.3, 2.6, 2.4]
comp_high = [
    0.3, 0.0, -0.3, -0.4, -0.3, 0.0, 0.4, 0.7, 0.8, 0.6,
    0.3, 0.1, 0.2, 0.5, 1.0, 1.4, 1.6, 1.5, 1.2, 0.8,
    0.5, 0.5, 0.8, 1.1, 1.2, 0.9, 0.2, -1.0, -2.3, -3.0,
    -2.8, -1.7, 0.0, 1.8, 3.3, 3.9, 3.3, 1.8, 0.0, -1.2,
    -1.4, -0.6, 0.6, 1.4, 1.3, 0.3, -0.9, -1.6, -1.3, -0.1,
    1.5, 2.7, 3.0, 2.2, 0.5, -1.5, -3.0, -3.2, -2.0, 0.2,
    2.2, 3.0, 2.5, 1.0, -0.8, -1.8, -1.2, 0.3, 1.6, 2.0,
    1.3, -0.2, -1.4, -1.6, -0.7, 0.7, 1.8, 2.0, 1.2, -0.2,
    -1.3, -1.5, -0.7, 0.6, 1.7, 2.0, 1.3, 0.0, -1.2, -1.6,
    -1.2, -0.2, 0.9, 1.5, 1.3, 0.5, -0.5, -1.0, -0.9, -0.3,
    0.6, 1.4, 2.0, 2.2, 1.9, 1.2, 0.4, -0.2, -0.6, -0.6,
    -0.4, 0.0, 0.4, 0.8, 1.0, 1.0, 0.8, 0.5, 0.2, -0.1,
    -0.3, -0.4, -0.3, -0.1, 0.2, 0.5, 0.7, 0.8, 0.7, 0.6]

data_sets = [data_6K, data_10K, data_15K, data_20K, data_30K, data_40K, data_50K,
             data_75K, data_90K, data_130K, data_180K, data_250K, data_300K]
fit_sets = [fit_6K, fit_10K, fit_15K, fit_20K, fit_30K, fit_40K, fit_50K,
            fit_75K, fit_90K, fit_130K, fit_180K, fit_250K, fit_300K]
comp_sets = [comp_low] * 9 + [comp_high] * 4

# right edge of the temperature label, in axes fraction
label_x = [0.977, 0.975, 0.968, 0.971, 0.983, 0.966, 0.977,
           0.962, 0.937, 0.964, 0.962, 0.973, 0.957]

W, H = 1033, 1499
fig = plt.figure(figsize=(W / 100, H / 100), dpi=100)

for i, t in enumerate(temps):
    row, col = divmod(i, 2)
    x0 = 46.5 if col == 0 else 563
    top = 19.3 + 213.3 * row
    ax = fig.add_axes([x0 / W, 1 - (top + 170.7) / H, 476 / W, 170.7 / H])

    ax.plot(r, data_sets[i], 's', color='black', ms=4.2, mec='black', zorder=2)
    ax.plot(r, fit_sets[i], color='#f01818', lw=1.0, zorder=3)
    ax.plot(r, comp_sets[i], color='#2ed82e', lw=1.0, zorder=4)

    ax.set_xlim(1, 5)
    ax.set_ylim(-40, 40)
    # the right column runs past the page edge, so its "5" is never shown
    ax.set_xticks([1, 2, 3, 4, 5] if col == 0 else [1, 2, 3, 4])
    ax.set_yticks([-40, -20, 0, 20, 40])
    ax.tick_params(direction='in', length=3, width=0.8, color='#555555',
                   labelcolor='#333333', labelsize=7, top=False, right=False)
    ax.tick_params(axis='x', pad=4.5)
    ax.tick_params(axis='y', pad=3.5)
    for sp in ax.spines.values():
        sp.set_color('#555555')
        sp.set_linewidth(1.1)

    # the last row sits against the page bottom, lift its label a little
    xlab_y = -0.158 if i < len(temps) - 1 else -0.12
    ax.text(0.5, xlab_y, 'R (Å)', transform=ax.transAxes, ha='center',
            va='center', fontsize=7.8, color='#333333')
    ax.text(-0.06, 0.5, r'Re($\chi$)( Å$^{\mathrm{-4}}$)', transform=ax.transAxes,
            rotation=90, ha='center', va='center', fontsize=7.5, color='#333333')
    ax.text(label_x[i], 0.826, r'$T$ = %d K' % t, transform=ax.transAxes,
            ha='right', va='baseline', fontsize=18.7, color='black')

fig.savefig('out.png', dpi=100)
